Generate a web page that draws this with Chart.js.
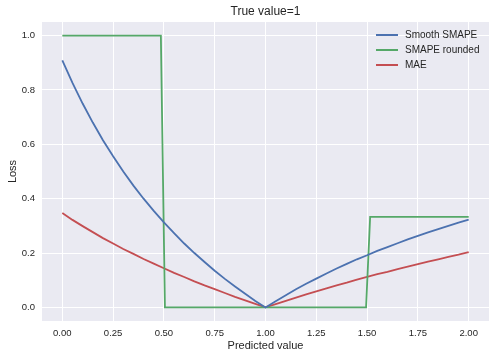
<!DOCTYPE html>
<html>
<head>
<meta charset="utf-8">
<script src="https://cdn.jsdelivr.net/npm/chart.js@4.4.1/dist/chart.umd.min.js"></script>
<style>
  html, body { margin: 0; padding: 0; background: #fff; }
  #wrap { width: 495px; height: 359px; }
</style>
</head>
<body>
<div id="wrap"><canvas id="chart" width="495" height="359"></canvas></div>
<script>
// predicted values (x) sampled every 0.05
const predicted = [0, 0.05, 0.1, 0.15, 0.2, 0.25, 0.3, 0.35, 0.4, 0.45, 0.5, 0.55, 0.6, 0.65, 0.7, 0.75, 0.8, 0.85, 0.9, 0.95,
  1, 1.05, 1.1, 1.15, 1.2, 1.25, 1.3, 1.35, 1.4, 1.45, 1.5, 1.55, 1.6, 1.65, 1.7, 1.75, 1.8, 1.85, 1.9, 1.95, 2];
const smoothSmape = [0.909, 0.826, 0.750, 0.680, 0.615, 0.556, 0.500, 0.448, 0.400, 0.355, 0.3125, 0.273, 0.235, 0.200, 0.167, 0.135, 0.105, 0.077, 0.050, 0.024,
  0.0, 0.023, 0.045, 0.067, 0.087, 0.106, 0.125, 0.143, 0.160, 0.177, 0.192, 0.208, 0.222, 0.236, 0.250, 0.263, 0.276, 0.288, 0.300, 0.312, 0.323];
const mae = [0.347, 0.322, 0.299, 0.277, 0.255, 0.235, 0.215, 0.197, 0.178, 0.161, 0.144, 0.127, 0.112, 0.096, 0.081, 0.067, 0.053, 0.039, 0.026, 0.013,
  0.0, 0.012, 0.024, 0.036, 0.048, 0.059, 0.070, 0.081, 0.091, 0.102, 0.112, 0.122, 0.131, 0.141, 0.150, 0.159, 0.168, 0.177, 0.186, 0.194, 0.203];
// rounded SMAPE is a step function: only the corners are needed
const roundedX = [0, 0.485, 0.505, 1.495, 1.515, 2];
const roundedY = [1, 1, 0, 0, 0.333, 0.333];

const xTicks = [0, 0.25, 0.5, 0.75, 1, 1.25, 1.5, 1.75, 2];
const yTicks = [0, 0.2, 0.4, 0.6, 0.8, 1.0];

const seriesNames = ['Smooth SMAPE', 'SMAPE rounded', 'MAE'];
const seriesColors = ['#4C72B0', '#55A868', '#C44E52'];
const titleText = 'True value=1';

const FONT = "'Liberation Sans', Arial, sans-serif";
const TEXT = '#262626';

function pts(xs, ys) { return xs.map((x, i) => ({ x, y: ys[i] })); }

const bgPlugin = {
  id: 'bg',
  beforeDraw(chart) {
    const { ctx, chartArea: a } = chart;
    ctx.save();
    ctx.fillStyle = '#EAEAF2';
    ctx.fillRect(a.left, a.top, a.right - a.left, a.bottom - a.top);
    ctx.restore();
  }
};

// title centred over the axes, legend inside upper right with no frame
const textPlugin = {
  id: 'texts',
  afterDraw(chart) {
    const { ctx, chartArea: a } = chart;
    ctx.save();
    ctx.fillStyle = TEXT;
    ctx.font = '12px ' + FONT;
    ctx.textAlign = 'center';
    ctx.textBaseline = 'middle';
    ctx.fillText(titleText, (a.left + a.right) / 2, 12);

    const x0 = 376, y0 = 35, rowH = 15;
    ctx.font = '10px ' + FONT;
    ctx.textAlign = 'left';
    seriesNames.forEach((name, i) => {
      const y = y0 + i * rowH;
      ctx.strokeStyle = seriesColors[i];
      ctx.lineWidth = 2;
      ctx.beginPath();
      ctx.moveTo(x0, y);
      ctx.lineTo(x0 + 22, y);
      ctx.stroke();
      ctx.fillText(name, x0 + 29, y);
    });
    ctx.restore();
  }
};

const ds = (label, data, color) => ({
  label, data, borderColor: color, backgroundColor: color,
  borderWidth: 1.8, pointRadius: 0, tension: 0, fill: false
});

new Chart(document.getElementById('chart'), {
  type: 'line',
  data: {
    datasets: [
      ds(seriesNames[0], pts(predicted, smoothSmape), seriesColors[0]),
      ds(seriesNames[1], pts(roundedX, roundedY), seriesColors[1]),
      ds(seriesNames[2], pts(predicted, mae), seriesColors[2])
    ]
  },
  options: {
    responsive: false,
    animation: false,
    layout: { padding: { left: 0, right: 6, top: 22, bottom: 0 } },
    plugins: {
      legend: { display: false },
      tooltip: { enabled: false },
      title: { display: false }
    },
    scales: {
      x: {
        type: 'linear', min: -0.1, max: 2.1,
        afterBuildTicks: s => { s.ticks = xTicks.map(v => ({ value: v })); },
        afterFit: s => { s.height = 38; },
        ticks: {
          color: TEXT, font: { family: FONT, size: 9.5 }, padding: 7, maxRotation: 0,
          callback: v => Number(v).toFixed(2)
        },
        grid: { color: '#ffffff', lineWidth: 1, drawTicks: false },
        border: { display: false },
        title: { display: true, text: 'Predicted value', color: TEXT, font: { family: FONT, size: 11 }, padding: { top: 0, bottom: 6 } }
      },
      y: {
        type: 'linear', min: -0.05, max: 1.05,
        afterBuildTicks: s => { s.ticks = yTicks.map(v => ({ value: v })); },
        afterFit: s => { s.width = 42; },
        ticks: {
          color: TEXT, font: { family: FONT, size: 9.5 }, padding: 7,
          callback: v => Number(v).toFixed(1)
        },
        grid: { color: '#ffffff', lineWidth: 1, drawTicks: false },
        border: { display: false },
        title: { display: true, text: 'Loss', color: TEXT, font: { family: FONT, size: 11 }, padding: { top: 6, bottom: 0 } }
      }
    }
  },
  plugins: [bgPlugin, textPlugin]
});
</script>
</body>
</html>
